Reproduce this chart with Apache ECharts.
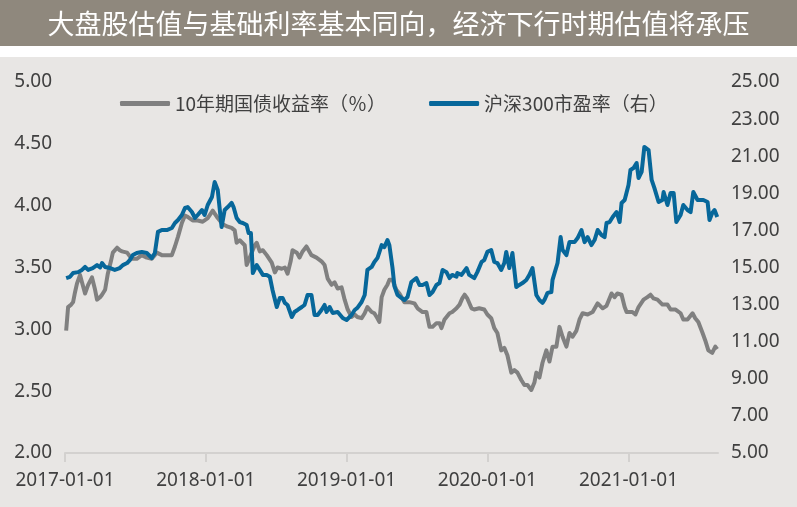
<!DOCTYPE html>
<html>
<head>
<meta charset="utf-8">
<script src="https://cdn.jsdelivr.net/npm/echarts@6/dist/echarts.min.js"></script>
<style>
html,body{margin:0;padding:0;background:#ffffff;}
#chart{width:797px;height:507px;}
</style>
</head>
<body>
<div id="chart"></div>
<script>
// ---- DATA ----
const titleText = '大盘股估值与基础利率基本同向，经济下行时期估值将承压';
const seriesNames = ['10年期国债收益率（％）', '沪深300市盈率（右）'];
const leftTicks = [2.0, 2.5, 3.0, 3.5, 4.0, 4.5, 5.0];
const rightTicks = [5, 7, 9, 11, 13, 15, 17, 19, 21, 23, 25];

const bondDates = [
'2017-01-04','2017-01-09','2017-01-17','2017-01-22','2017-01-27','2017-02-01','2017-02-09','2017-02-14','2017-02-22','2017-03-02',
'2017-03-12','2017-03-20','2017-03-25','2017-04-02','2017-04-07','2017-04-15','2017-04-22','2017-04-30','2017-05-05','2017-05-16',
'2017-05-23','2017-05-29','2017-06-11','2017-06-23','2017-07-06','2017-07-19','2017-08-01','2017-08-14','2017-08-27','2017-09-09',
'2017-09-22','2017-10-05','2017-10-13','2017-10-21','2017-10-31','2017-11-08','2017-11-15','2017-11-28','2017-12-11','2017-12-24',
'2018-01-06','2018-01-19','2018-02-01','2018-02-14','2018-02-27','2018-03-09','2018-03-17','2018-03-22','2018-03-30','2018-04-12',
'2018-04-17','2018-04-22','2018-04-30','2018-05-08','2018-05-13','2018-05-21','2018-05-29','2018-06-08','2018-06-21','2018-06-29',
'2018-07-06','2018-07-17','2018-07-25','2018-08-01','2018-08-09','2018-08-14','2018-08-25','2018-09-01','2018-09-09','2018-09-19',
'2018-10-02','2018-10-15','2018-10-28','2018-11-05','2018-11-13','2018-11-23','2018-12-01','2018-12-09','2018-12-19','2018-12-27',
'2019-01-04','2019-01-14','2019-01-22','2019-01-29','2019-02-09','2019-02-17','2019-02-24','2019-03-07','2019-03-14','2019-03-22',
'2019-03-27','2019-04-02','2019-04-09','2019-04-17','2019-04-22','2019-04-30','2019-05-10','2019-05-18','2019-05-31','2019-06-13',
'2019-06-26','2019-07-04','2019-07-17','2019-07-27','2019-08-04','2019-08-12','2019-08-22','2019-08-30','2019-09-04','2019-09-12',
'2019-09-25','2019-10-02','2019-10-13','2019-10-21','2019-10-28','2019-11-03','2019-11-10','2019-11-21','2019-11-28','2019-12-11',
'2019-12-24','2020-01-01','2020-01-11','2020-01-19','2020-01-27','2020-02-06','2020-02-14','2020-02-22','2020-03-03','2020-03-11',
'2020-03-19','2020-03-29','2020-04-06','2020-04-14','2020-04-24','2020-05-02','2020-05-07','2020-05-15','2020-05-23','2020-06-02',
'2020-06-10','2020-06-18','2020-06-28','2020-07-06','2020-07-14','2020-07-24','2020-08-01','2020-08-09','2020-08-19','2020-08-27',
'2020-09-04','2020-09-17','2020-09-30','2020-10-13','2020-10-26','2020-11-05','2020-11-18','2020-11-26','2020-12-03','2020-12-14',
'2020-12-22','2020-12-27','2021-01-11','2021-01-19','2021-01-27','2021-02-09','2021-02-19','2021-02-27','2021-03-07','2021-03-17',
'2021-03-30','2021-04-12','2021-04-20','2021-05-03','2021-05-16','2021-05-23','2021-06-03','2021-06-16','2021-06-23','2021-07-01',
'2021-07-12','2021-07-19','2021-07-27','2021-08-06','2021-08-14','2021-08-19'
];
const bondYield = [
2.99,3.18,3.20,3.22,3.30,3.37,3.44,3.38,3.29,3.36,
3.42,3.32,3.24,3.26,3.28,3.32,3.45,3.55,3.62,3.66,
3.64,3.63,3.62,3.57,3.57,3.60,3.58,3.57,3.62,3.60,
3.60,3.60,3.67,3.75,3.86,3.92,3.91,3.88,3.88,3.87,
3.90,3.96,3.90,3.85,3.83,3.82,3.80,3.70,3.72,3.68,
3.52,3.53,3.62,3.68,3.70,3.63,3.64,3.60,3.54,3.46,
3.50,3.49,3.50,3.45,3.55,3.64,3.62,3.58,3.63,3.67,
3.60,3.58,3.55,3.52,3.41,3.36,3.38,3.33,3.34,3.24,
3.16,3.10,3.12,3.10,3.09,3.13,3.18,3.14,3.13,3.09,
3.06,3.26,3.32,3.36,3.40,3.40,3.32,3.29,3.22,3.22,
3.21,3.17,3.14,3.14,3.02,3.02,3.05,3.05,3.01,3.08,
3.13,3.14,3.17,3.20,3.25,3.28,3.25,3.17,3.16,3.17,
3.16,3.12,3.09,3.01,2.97,2.83,2.85,2.79,2.65,2.67,
2.65,2.59,2.55,2.55,2.51,2.57,2.65,2.61,2.73,2.83,
2.74,2.86,2.86,3.02,2.94,2.86,2.97,2.94,2.99,3.08,
3.13,3.12,3.14,3.21,3.17,3.19,3.29,3.26,3.29,3.28,
3.18,3.14,3.14,3.12,3.18,3.24,3.26,3.28,3.25,3.24,
3.20,3.20,3.16,3.16,3.13,3.08,3.08,3.13,3.09,3.06,
2.97,2.91,2.83,2.81,2.86,2.84
];

const peDates = [
'2017-01-04','2017-01-14','2017-01-22','2017-02-04','2017-02-14','2017-02-22','2017-03-02','2017-03-14','2017-03-25','2017-04-02',
'2017-04-07','2017-04-15','2017-04-28','2017-05-10','2017-05-23','2017-05-31','2017-06-11','2017-06-18','2017-06-26','2017-07-06',
'2017-07-19','2017-08-01','2017-08-14','2017-08-22','2017-08-30','2017-09-09','2017-09-22','2017-10-05','2017-10-13','2017-10-21',
'2017-10-31','2017-11-08','2017-11-15','2017-11-26','2017-12-04','2017-12-11','2017-12-22','2017-12-29','2018-01-06','2018-01-17',
'2018-01-24','2018-02-01','2018-02-11','2018-02-19','2018-02-27','2018-03-09','2018-03-14','2018-03-22','2018-03-30','2018-04-07',
'2018-04-17','2018-04-22','2018-04-28','2018-05-03','2018-05-13','2018-05-21','2018-05-29','2018-06-08','2018-06-16','2018-06-23',
'2018-07-04','2018-07-12','2018-07-19','2018-07-25','2018-08-01','2018-08-12','2018-08-19','2018-08-27','2018-09-07','2018-09-14',
'2018-09-22','2018-10-02','2018-10-10','2018-10-18','2018-10-28','2018-11-05','2018-11-10','2018-11-18','2018-11-26','2018-12-09',
'2018-12-22','2019-01-01','2019-01-14','2019-01-22','2019-01-29','2019-02-09','2019-02-17','2019-02-24','2019-03-07','2019-03-14',
'2019-03-22','2019-04-02','2019-04-09','2019-04-17','2019-04-22','2019-04-30','2019-05-05','2019-05-13','2019-05-23','2019-05-31',
'2019-06-08','2019-06-18','2019-07-01','2019-07-09','2019-07-17','2019-07-27','2019-08-04','2019-08-12','2019-08-22','2019-08-30',
'2019-09-07','2019-09-17','2019-09-25','2019-10-02','2019-10-13','2019-10-15','2019-10-26','2019-11-08','2019-11-15','2019-11-28',
'2019-12-06','2019-12-17','2019-12-24','2020-01-01','2020-01-11','2020-01-19','2020-01-27','2020-02-06','2020-02-14','2020-02-19',
'2020-02-27','2020-03-06','2020-03-16','2020-03-24','2020-04-01','2020-04-11','2020-04-19','2020-04-27','2020-05-07','2020-05-15',
'2020-05-23','2020-05-28','2020-06-05','2020-06-15','2020-06-18','2020-06-23','2020-07-01','2020-07-09','2020-07-14','2020-07-24',
'2020-08-01','2020-08-14','2020-08-22','2020-09-01','2020-09-09','2020-09-17','2020-09-27','2020-10-05','2020-10-13','2020-10-23',
'2020-10-31','2020-11-05','2020-11-13','2020-11-21','2020-12-01','2020-12-09','2020-12-14','2020-12-22','2021-01-01','2021-01-06',
'2021-01-14','2021-01-22','2021-01-27','2021-02-04','2021-02-11','2021-02-22','2021-03-02','2021-03-09','2021-03-20','2021-03-30',
'2021-04-02','2021-04-12','2021-04-20','2021-04-28','2021-05-05','2021-05-16','2021-05-23','2021-06-03','2021-06-11','2021-06-18',
'2021-06-29','2021-07-06','2021-07-14','2021-07-25','2021-07-30','2021-08-06','2021-08-12','2021-08-19'
];
const peRatio = [
14.43,14.50,14.70,14.75,14.87,15.03,14.87,14.97,15.13,15.00,
15.24,15.03,14.97,14.87,14.97,15.13,15.24,15.40,15.67,15.78,
15.84,15.78,15.51,15.78,16.92,17.02,17.02,17.13,17.40,17.56,
17.83,18.21,18.26,17.99,17.67,17.83,18.10,17.83,18.37,18.80,
19.61,19.18,17.18,18.10,18.26,18.48,18.26,17.67,17.45,17.40,
17.29,16.86,16.86,14.70,15.13,14.87,14.60,14.60,14.50,13.79,
12.87,13.36,13.36,13.09,12.98,12.33,12.60,12.71,12.87,12.98,
13.52,13.52,12.44,12.44,12.71,12.98,12.60,12.87,12.55,12.60,
12.28,12.17,12.44,12.71,12.82,13.14,13.52,14.87,15.03,15.30,
15.51,16.21,16.10,16.48,16.20,15.00,14.00,13.52,13.36,13.25,
13.41,14.22,14.43,14.06,14.06,14.16,13.52,13.68,14.06,14.16,
14.87,14.75,14.43,14.60,14.50,14.70,14.60,14.97,14.60,14.43,
14.75,15.30,15.40,15.84,15.94,15.30,15.24,14.87,15.24,15.84,
14.97,15.78,13.95,14.06,14.16,14.33,14.60,14.97,13.52,13.25,
13.09,13.25,13.63,13.68,14.33,14.43,15.24,16.64,15.94,15.67,
16.37,16.37,16.59,17.02,16.37,16.64,16.21,16.48,17.02,16.75,
16.64,17.40,17.45,17.72,17.99,17.45,18.48,18.64,19.45,20.26,
20.36,20.63,19.82,20.15,21.50,21.33,19.72,19.29,18.53,18.64,
19.07,18.37,19.02,19.02,17.45,17.83,18.37,18.10,17.99,19.07,
18.64,18.64,18.64,18.53,17.56,17.94,18.10,17.72
];

// ---- CHART ----
const FONT = "'Noto Sans', 'Noto Sans CJK SC', sans-serif";
const CJK = "'Noto Sans CJK SC', 'Noto Sans', sans-serif";
const labelColor = '#404040';
const axisGray = '#d3d1cf';

const chart = echarts.init(document.getElementById('chart'), null, {renderer: 'canvas'});
const option = {
  backgroundColor: '#ffffff',
  animation: false,
  graphic: [
    {type: 'rect', z: -10, silent: true, shape: {x: 0, y: 0, width: 797, height: 46}, style: {fill: '#8f887d'}},
    {type: 'rect', z: -10, silent: true, shape: {x: 0, y: 57, width: 797, height: 450}, style: {fill: '#e8e6e4'}}
  ],
  title: {
    text: titleText,
    left: 'center',
    top: 5,
    textStyle: {color: '#ffffff', fontSize: 27, fontWeight: 'normal', fontFamily: CJK}
  },
  legend: {
    data: seriesNames,
    left: 115,
    top: 89,
    itemWidth: 50,
    itemHeight: 5,
    itemGap: 43,
    icon: 'roundRect',
    textStyle: {color: labelColor, fontSize: 19, fontFamily: CJK}
  },
  grid: {left: 65, right: 79, top: 82, bottom: 54, containLabel: false},
  xAxis: {
    type: 'time',
    min: '2017-01-01',
    max: '2021-08-21',
    splitNumber: 5,
    minInterval: 365 * 24 * 3600 * 1000,
    axisLine: {show: true, lineStyle: {color: axisGray, width: 2}},
    axisTick: {show: true, length: 9, lineStyle: {color: axisGray, width: 2}},
    splitLine: {show: false},
    minorTick: {show: false},
    axisLabel: {
      color: labelColor, fontSize: 19, fontFamily: FONT, margin: 18,
      formatter: '{yyyy}-{MM}-{dd}',
      showMinLabel: true, showMaxLabel: false
    }
  },
  yAxis: [
    {
      type: 'value', min: leftTicks[0], max: leftTicks[leftTicks.length - 1], interval: 0.5,
      axisLine: {show: false}, axisTick: {show: false}, splitLine: {show: false},
      axisLabel: {color: labelColor, fontSize: 19, fontFamily: FONT, margin: 13, formatter: v => v.toFixed(2)}
    },
    {
      type: 'value', min: rightTicks[0], max: rightTicks[rightTicks.length - 1], interval: 2,
      axisLine: {show: false}, axisTick: {show: false}, splitLine: {show: false},
      axisLabel: {color: labelColor, fontSize: 19, fontFamily: FONT, margin: 13, formatter: v => v.toFixed(2)}
    }
  ],
  series: [
    {
      name: seriesNames[0], type: 'line', yAxisIndex: 0, showSymbol: false, symbol: 'none',
      lineStyle: {color: '#808080', width: 4, join: 'round'}, itemStyle: {color: '#808080'},
      data: bondDates.map((d, i) => [d, bondYield[i]])
    },
    {
      name: seriesNames[1], type: 'line', yAxisIndex: 1, showSymbol: false, symbol: 'none',
      lineStyle: {color: '#07679a', width: 4, join: 'round'}, itemStyle: {color: '#07679a'},
      data: peDates.map((d, i) => [d, peRatio[i]])
    }
  ]
};
chart.setOption(option);
</script>
</body>
</html>
